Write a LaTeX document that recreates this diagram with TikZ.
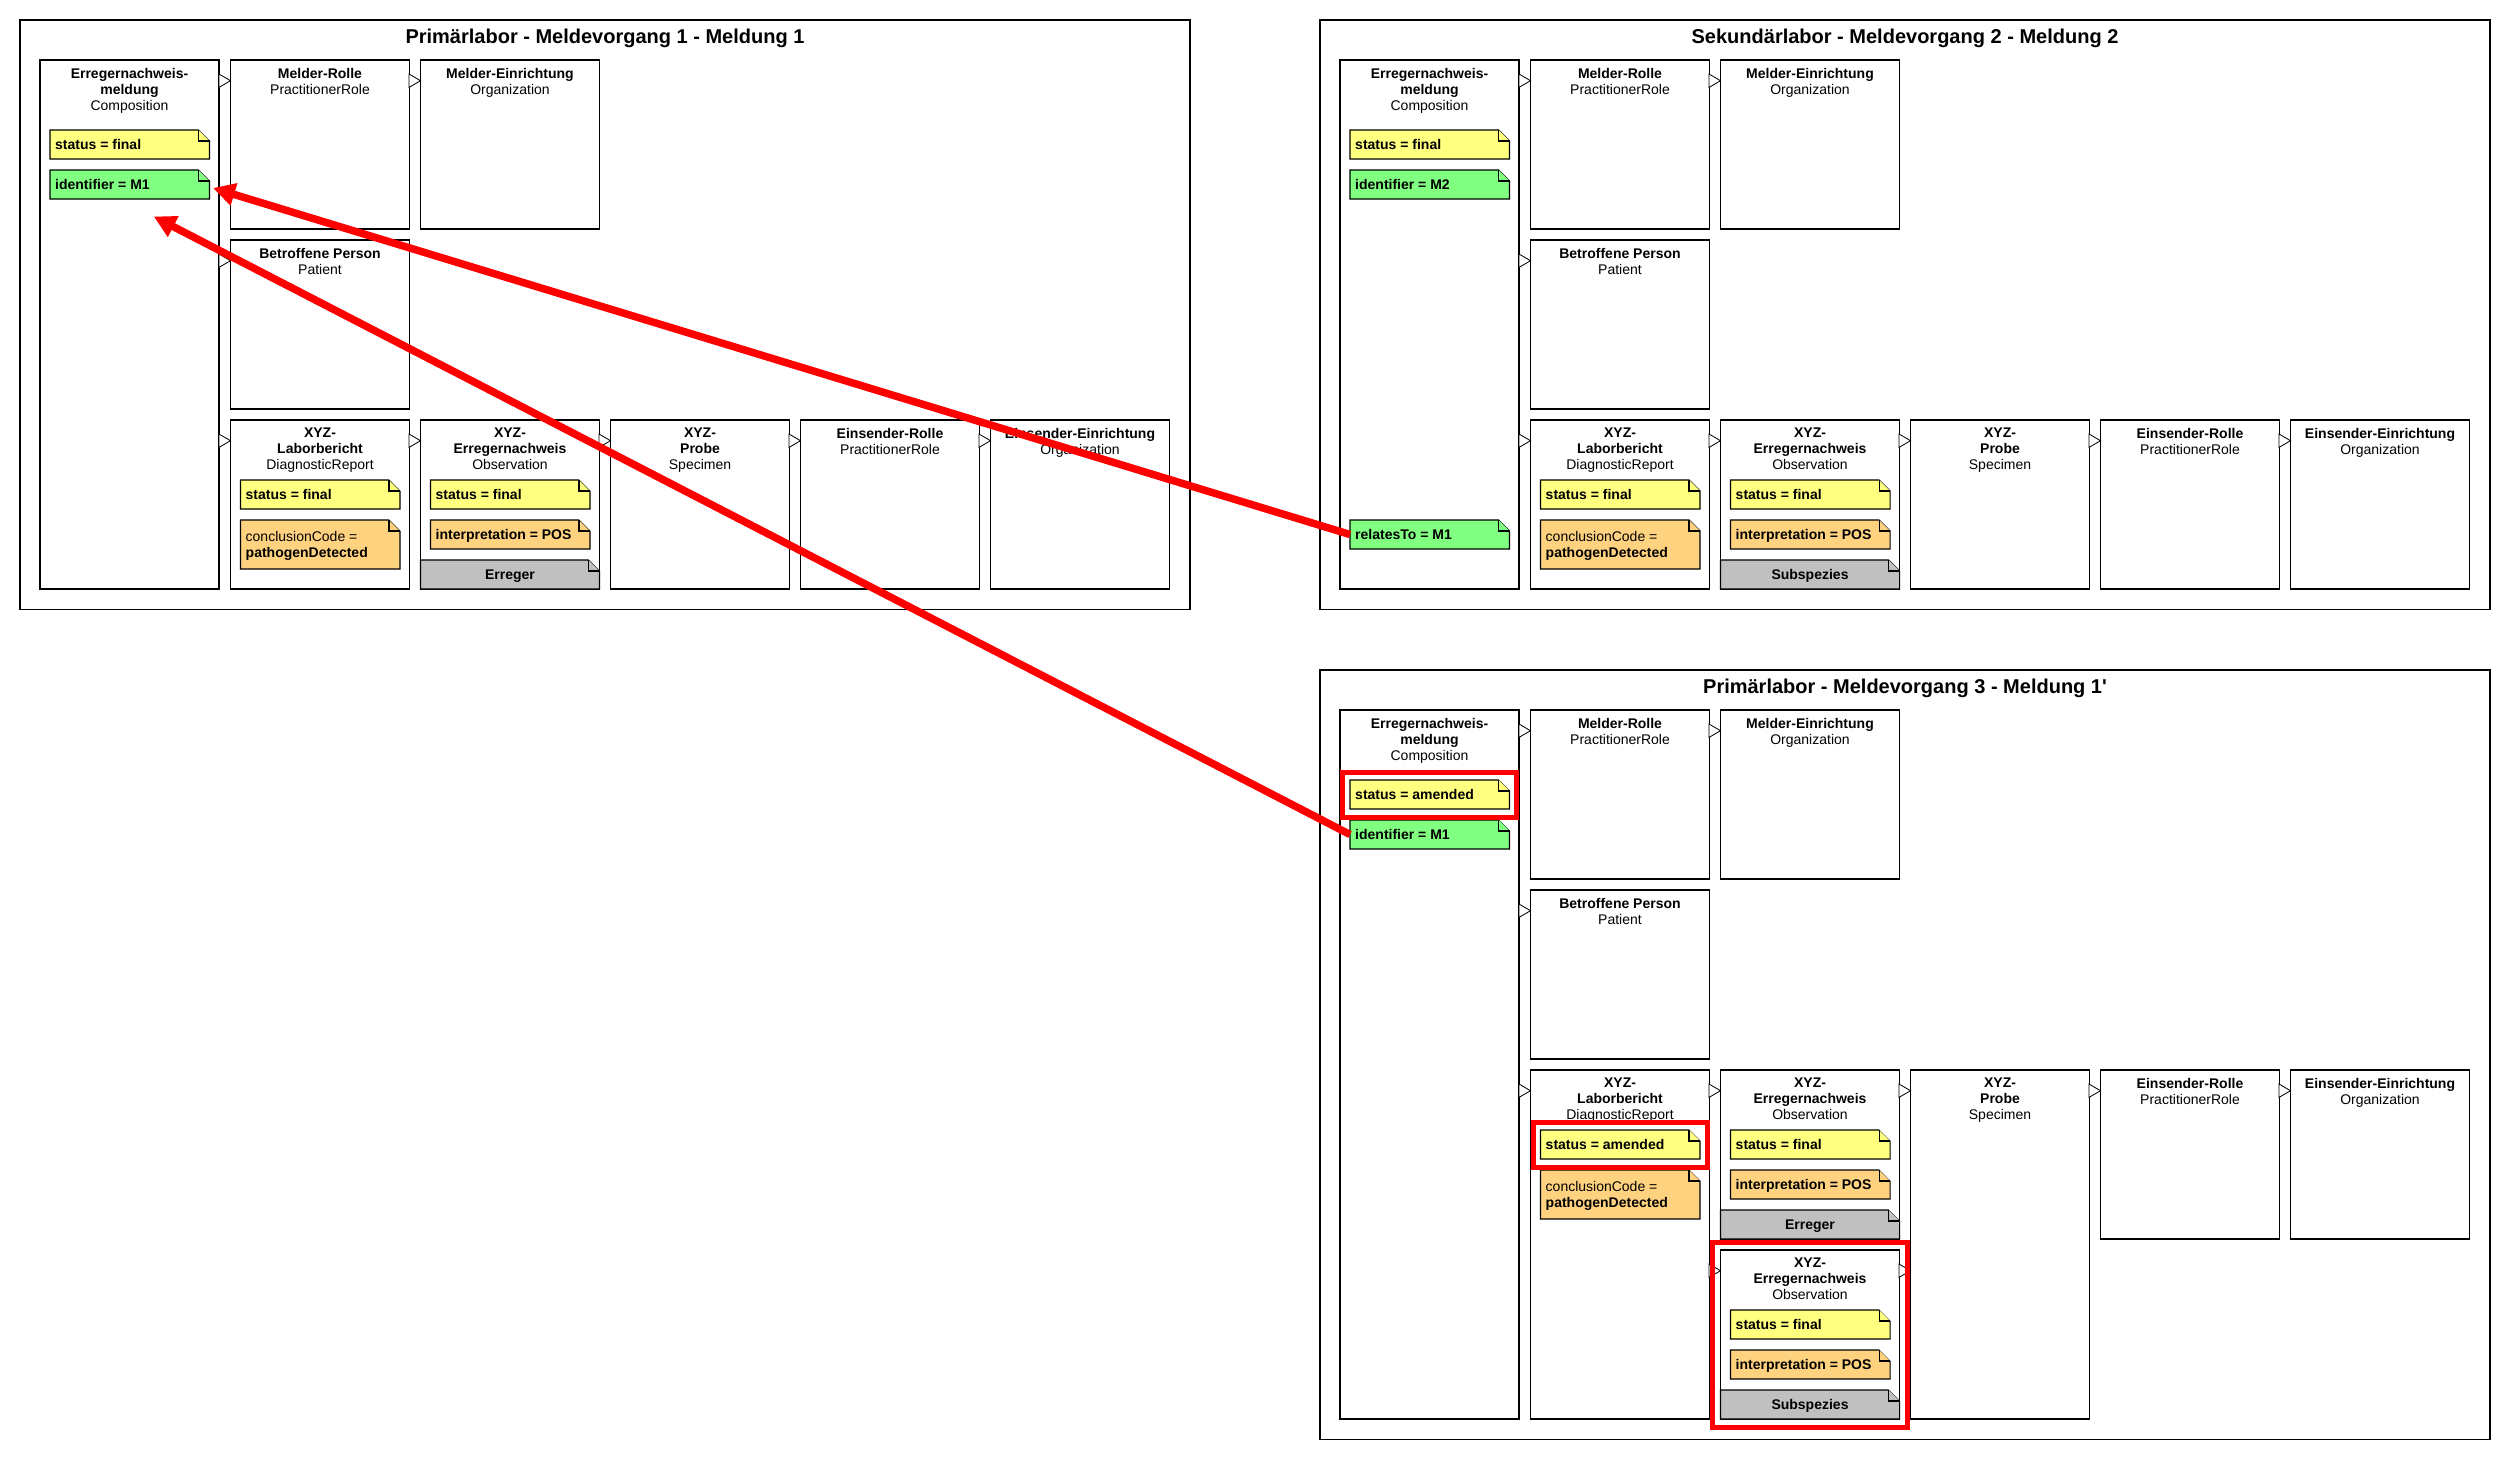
\documentclass[tikz,border=0pt]{standalone}
\usepackage{fontspec}
\setmainfont{Liberation Sans}[Ligatures=TeXOff]
\usetikzlibrary{calc,arrows.meta}
\definecolor{nyellow}{HTML}{FFFF80}
\definecolor{ngreen}{HTML}{80FF80}
\definecolor{norange}{HTML}{FFD280}
\definecolor{ngray}{HTML}{C0C0C0}
\definecolor{hred}{HTML}{FF0000}
\tikzset{
 panelbox/.style={draw=black, line width=1.2pt, inner sep=0, outer sep=0, anchor=north west},
 rbox/.style={draw=black, line width=1.05pt, fill=white, inner sep=0, outer sep=0, anchor=north west, minimum width=179pt},
 btitle/.style={font=\fontsize{14}{16}\selectfont, align=center, inner sep=0, anchor=north},
 ptitle/.style={font=\fontsize{20}{24}\selectfont\bfseries, inner sep=0, anchor=base},
 notearea/.style={inner sep=0, outer sep=0, anchor=north west},
 noteshape/.style={draw=black, line width=1.05pt, line join=miter},
 ntext/.style={font=\fontsize{14}{16}\selectfont\bfseries, inner sep=0, anchor=base west},
 trishape/.style={draw=black, line width=0.8pt, fill=white, line join=miter},
 hl/.style={draw=hred, line width=5pt},
 redarrow/.style={draw=hred, line width=7.5pt, -{Triangle[length=22pt,width=22pt]}},
}
% box: name, x, y, height, title
\newcommand\mkbox[5]{%
  \node[rbox, minimum height=#4pt] (#1) at (#2,#3) {};
  \node[btitle] (#1-t) at ($(#1.north)+(0,8.1)$) {#5};
}
% folded note outline: name, colour
\newcommand\mkfold[2]{%
  \draw[noteshape, fill=#2] (#1.north west) -- ($(#1.north east)+(-11,0)$) -- ($(#1.north east)+(0,11)$) -- (#1.south east) -- (#1.south west) -- cycle;
  \draw[noteshape, fill=#2] ($(#1.north east)+(-11,0)$) -- ($(#1.north east)+(-11,11)$) -- ($(#1.north east)+(0,11)$);
}
% note: name, box, dy, colour, text
\newcommand\mknote[5]{%
  \node[notearea, minimum width=159.5pt, minimum height=29pt] (#1) at ($(#2.north west)+(10,#3)$) {};
  \mkfold{#1}{#4}
  \node[ntext] (#1-t) at ($(#1.north west)+(5,19.5)$) {#5};
}
% conclusion note: name, box, dy
\newcommand\mkconc[3]{%
  \node[notearea, minimum width=159.5pt, minimum height=49pt] (#1) at ($(#2.north west)+(10,#3)$) {};
  \mkfold{#1}{norange}
  \node[font=\fontsize{14}{16}\selectfont, align=left, inner sep=0, anchor=north west] (#1-t) at ($(#1.north west)+(5,11.3)$) {conclusionCode =\\\textbf{pathogenDetected}};
}
% gray note: name, box, dy, text
\newcommand\mkgray[4]{%
  \node[notearea, minimum width=179pt, minimum height=29pt] (#1) at ($(#2.north west)+(0,#3)$) {};
  \mkfold{#1}{ngray}
  \node[ntext, anchor=base] (#1-t) at ($(#1.north)+(0,19)$) {#4};
}
% triangle at target's top-left
\newcommand\mktri[1]{%
  \draw[trishape] ($(#1.north west)+(-11.5,14)$) -- ($(#1.north west)+(0,20.7)$) -- ($(#1.north west)+(-11.5,27.4)$) -- cycle;
}
% triangle from source (its top) to target's left side
\newcommand\mktrir[2]{%
  \draw[trishape] ($(#2.west |- #1.north)+(-11.5,14)$) -- ($(#2.west |- #1.north)+(0,20.7)$) -- ($(#2.west |- #1.north)+(-11.5,27.4)$) -- cycle;
}
% panel: prefix, X, Y, title, panel h, comp h, lab h, probe h
\newcommand\mkpanel[8]{%
  \node[panelbox, minimum width=1170pt, minimum height=#5pt] (#1panel) at (#2,#3) {};
  \node[ptitle] (#1title) at ($(#1panel.north)+(0,23.3)$) {#4};
  \mkbox{#1comp}{#2+20}{#3+40}{#6}{\textbf{Erregernachweis-}\\\textbf{meldung}\\Composition}
  \mkbox{#1mr}{#2+210.5}{#3+40}{169}{\textbf{Melder-Rolle}\\PractitionerRole}
  \mkbox{#1me}{#2+400.5}{#3+40}{169}{\textbf{Melder-Einrichtung}\\Organization}
  \mkbox{#1bp}{#2+210.5}{#3+220}{169}{\textbf{Betroffene Person}\\Patient}
  \mkbox{#1lb}{#2+210.5}{#3+400}{#7}{\textbf{XYZ-}\\\textbf{Laborbericht}\\DiagnosticReport}
  \mkbox{#1ob}{#2+400.5}{#3+400}{169}{\textbf{XYZ-}\\\textbf{Erregernachweis}\\Observation}
  \mkbox{#1pr}{#2+590.5}{#3+400}{#8}{\textbf{XYZ-}\\\textbf{Probe}\\Specimen}
  \mkbox{#1er}{#2+780.5}{#3+400}{169}{\textbf{Einsender-Rolle}\\PractitionerRole}
  \mkbox{#1ee}{#2+970.5}{#3+400}{169}{\textbf{Einsender-Einrichtung}\\Organization}
  \mktri{#1mr}\mktri{#1me}\mktri{#1bp}\mktri{#1lb}\mktri{#1ob}\mktri{#1pr}\mktri{#1er}\mktri{#1ee}
}
\begin{document}
\begin{tikzpicture}[x=1pt,y=-1pt]
\fill[white] (0,0) rectangle (2510,1460);
\useasboundingbox (0,0) rectangle (2510,1460);

% Panel A
\mkpanel{A}{20}{20}{Primärlabor - Meldevorgang 1 - Meldung 1}{589.3}{529}{169}{169}
\mknote{Acs}{Acomp}{70}{nyellow}{status = final}
\mknote{Aci}{Acomp}{110}{ngreen}{identifier = M1}
\mknote{Als}{Alb}{60}{nyellow}{status = final}
\mkconc{Alc}{Alb}{100}
\mknote{Aos}{Aob}{60}{nyellow}{status = final}
\mknote{Aoi}{Aob}{100}{norange}{interpretation = POS}
\mkgray{Aog}{Aob}{140}{Erreger}

% Panel B
\mkpanel{B}{1320}{20}{Sekundärlabor - Meldevorgang 2 - Meldung 2}{589.3}{529}{169}{169}
\mknote{Bcs}{Bcomp}{70}{nyellow}{status = final}
\mknote{Bci}{Bcomp}{110}{ngreen}{identifier = M2}
\mknote{Bcr}{Bcomp}{460}{ngreen}{relatesTo = M1}
\mknote{Bls}{Blb}{60}{nyellow}{status = final}
\mkconc{Blc}{Blb}{100}
\mknote{Bos}{Bob}{60}{nyellow}{status = final}
\mknote{Boi}{Bob}{100}{norange}{interpretation = POS}
\mkgray{Bog}{Bob}{140}{Subspezies}

% Panel C
\mkpanel{C}{1320}{670}{Primärlabor - Meldevorgang 3 - Meldung 1'}{769.3}{709}{349}{349}
\mknote{Ccs}{Ccomp}{70}{nyellow}{status = amended}
\mknote{Cci}{Ccomp}{110}{ngreen}{identifier = M1}
\mknote{Cls}{Clb}{60}{nyellow}{status = amended}
\mkconc{Clc}{Clb}{100}
\mknote{Cos}{Cob}{60}{nyellow}{status = final}
\mknote{Coi}{Cob}{100}{norange}{interpretation = POS}
\mkgray{Cog}{Cob}{140}{Erreger}
\mkbox{Co2}{1720.5}{1250}{169}{\textbf{XYZ-}\\\textbf{Erregernachweis}\\Observation}
\mknote{C2s}{Co2}{60}{nyellow}{status = final}
\mknote{C2i}{Co2}{100}{norange}{interpretation = POS}
\mkgray{C2g}{Co2}{140}{Subspezies}
\mktri{Co2}
\mktrir{Co2}{Cpr}

% highlights
\draw[hl] ($(Ccomp.west |- Ccs.north)+(2.5,-7.5)$) rectangle ($(Ccomp.east |- Ccs.south)+(-2.5,8.5)$);
\draw[hl] ($(Clb.west |- Cls.north)+(2.5,-7.5)$) rectangle ($(Clb.east |- Cls.south)+(-2.5,8.2)$);
\draw[hl] ($(Co2.north west)+(-8,-7.5)$) rectangle ($(Co2.south east)+(8,8)$);

% red arrows
\coordinate (t1) at ($(Aci.east)+(3.5,3.5)$);
\coordinate (t2) at ($(Aci.south)+(24,17.5)$);
\draw[redarrow] (Bcr.west) -- (t1);
\draw[redarrow] (Cci.west) -- (t2);
\end{tikzpicture}
\end{document}
